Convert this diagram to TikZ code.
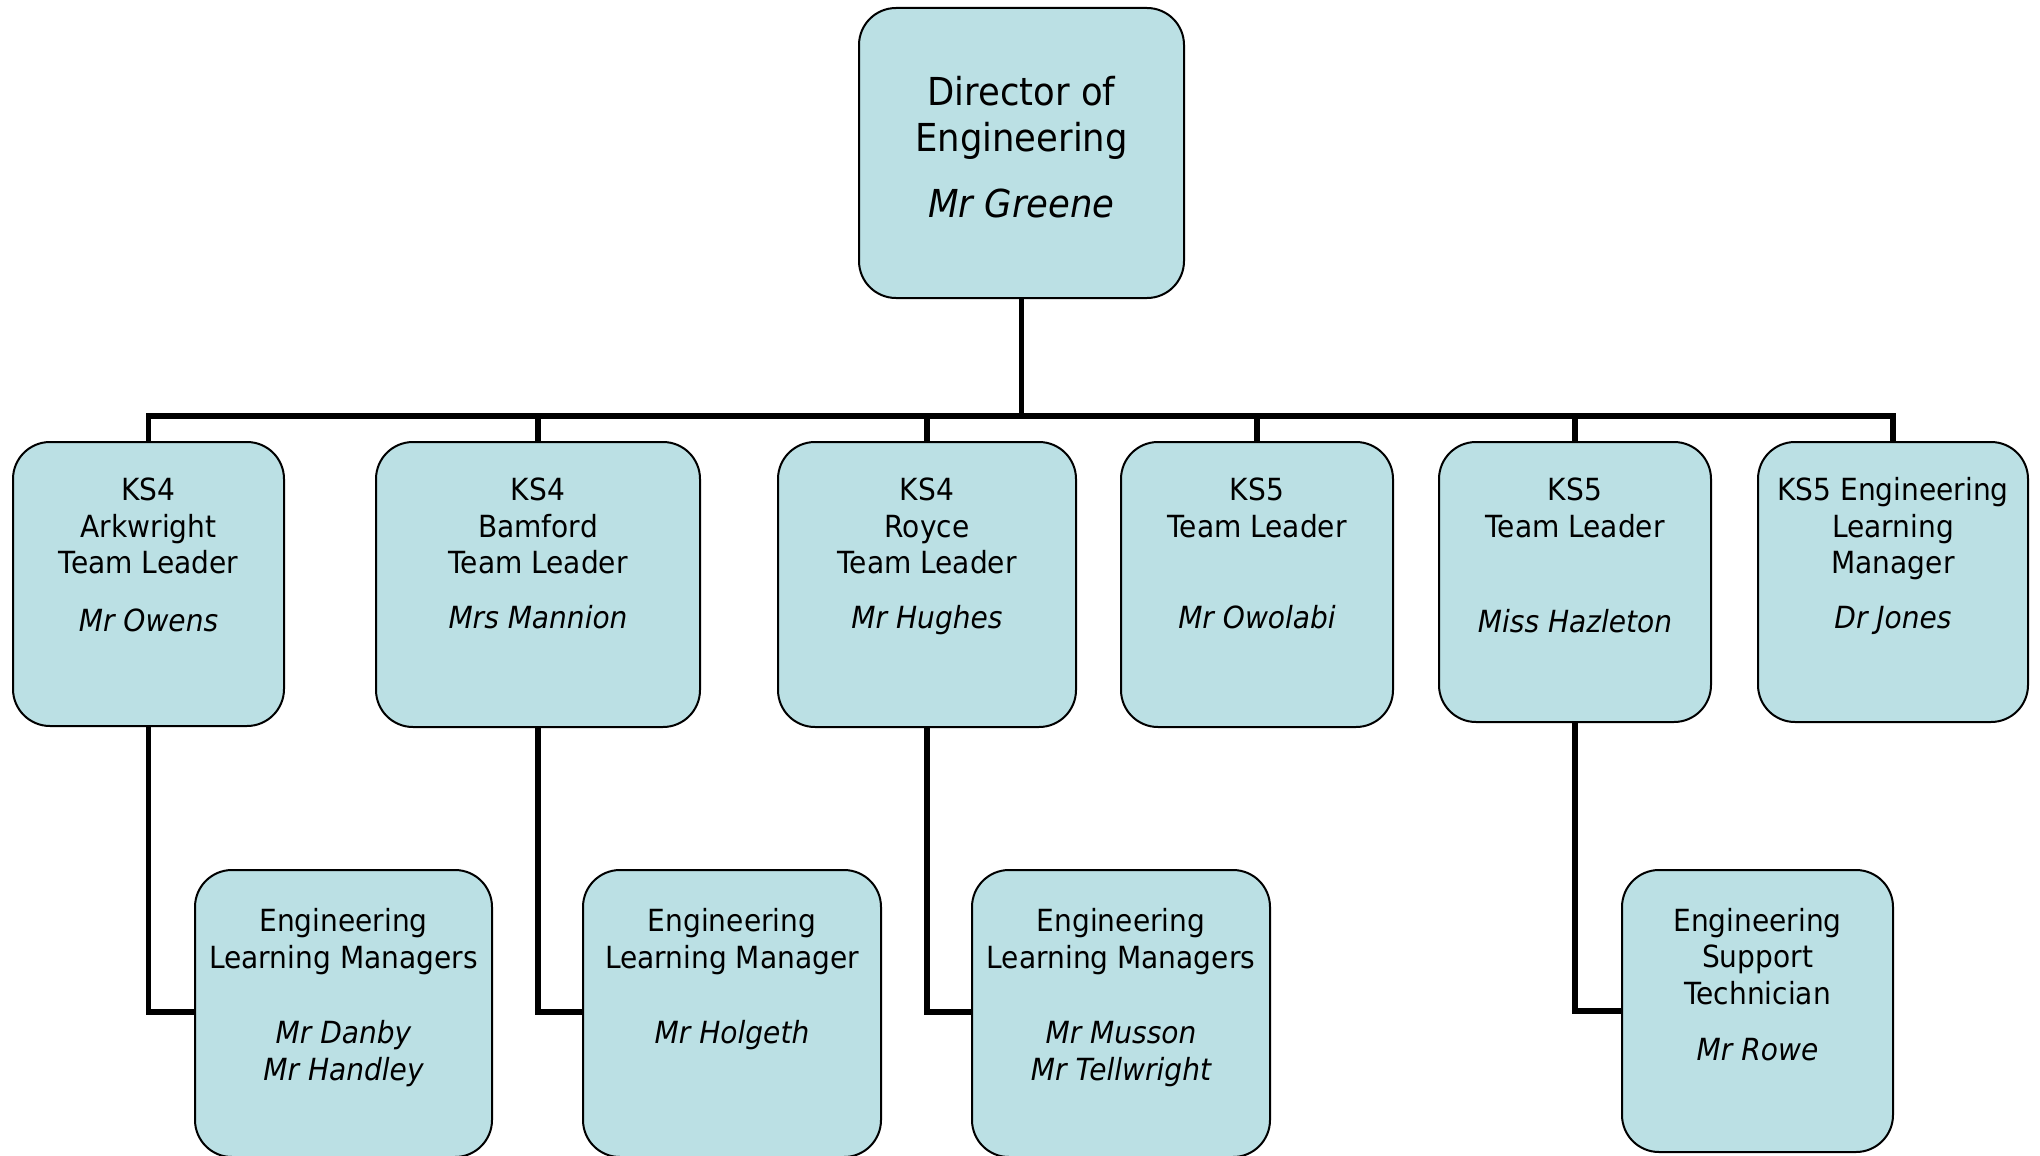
\documentclass[tikz,border=0pt]{standalone}
\usepackage{fontspec}
\setmainfont{DejaVu Sans}[FakeStretch=0.92]
\definecolor{boxfill}{RGB}{187,224,228}
\tikzset{
  box/.style={draw=black, line width=2pt, fill=boxfill, rounded corners=37pt, inner sep=0pt},
  conn/.style={draw=black, line width=5.5pt, line join=miter},
  lab/.style={anchor=base, inner sep=0pt, font=\fontsize{30.5}{36}\selectfont},
  labbig/.style={anchor=base, inner sep=0pt, font=\fontsize{38.5}{44}\selectfont},
}
\newcommand\boxline[4]{\node[lab] (#1) at (#2,#3) {#4};}
\begin{document}
\begin{tikzpicture}[x=1pt,y=-1pt]
\useasboundingbox (0,0) rectangle (2040,1156);
\coordinate (bus) at (0,416);
% boxes
\path
  (1021.5,153) node[box, minimum width=325pt, minimum height=290pt] (top) {}
  (148.5,584)  node[box, minimum width=271pt, minimum height=284pt] (b1) {}
  (538,584.5)  node[box, minimum width=324pt, minimum height=285pt] (b2) {}
  (927,584.5)  node[box, minimum width=298pt, minimum height=285pt] (b3) {}
  (1257,584.5) node[box, minimum width=272pt, minimum height=285pt] (b4) {}
  (1575,582)   node[box, minimum width=272pt, minimum height=280pt] (b5) {}
  (1893,582)   node[box, minimum width=270pt, minimum height=280pt] (b6) {}
  (343.5,1013.5) node[box, minimum width=297pt, minimum height=287pt] (c1) {}
  (732,1013.5)   node[box, minimum width=298pt, minimum height=287pt] (c2) {}
  (1121,1013.5)  node[box, minimum width=298pt, minimum height=287pt] (c3) {}
  (1757.5,1011) node[box, minimum width=271pt, minimum height=282pt] (c4) {};
% connectors
\draw[conn] (top.south) -- (top.south |- bus);
\draw[conn] (b1.north) -- (b1.north |- bus) -- (b6.north |- bus) -- (b6.north);
\foreach \n in {b2,b3,b4,b5} \draw[conn] (\n.north) -- (\n.north |- bus);
\draw[conn] (b1.south) |- (c1.west |- 0,1012);
\draw[conn] (b2.south) |- (c2.west |- 0,1012);
\draw[conn] (b3.south) |- (c3.west |- 0,1012);
\draw[conn] (b5.south) |- (c4.west);
% texts
\node[labbig] (t1) at (1021.5,106) {Director of};
\node[labbig] (t2) at (1021.5,151) {Engineering};
\node[labbig] (t3) at (1021.5,217) {\itshape Mr Greene};

\boxline{b1a}{148.5}{500}{KS4}
\boxline{b1b}{148.5}{537}{Arkwright}
\boxline{b1c}{148.5}{573}{Team Leader}
\boxline{b1d}{148.5}{631}{\itshape Mr Owens}

\boxline{b2a}{538}{500}{KS4}
\boxline{b2b}{538}{537}{Bamford}
\boxline{b2c}{538}{573}{Team Leader}
\boxline{b2d}{538}{628}{\itshape Mrs Mannion}

\boxline{b3a}{927}{500}{KS4}
\boxline{b3b}{927}{537}{Royce}
\boxline{b3c}{927}{573}{Team Leader}
\boxline{b3d}{927}{628}{\itshape Mr Hughes}

\boxline{b4a}{1257}{500}{KS5}
\boxline{b4b}{1257}{537}{Team Leader}
\boxline{b4d}{1257}{628}{\itshape Mr Owolabi}

\boxline{b5a}{1575}{500}{KS5}
\boxline{b5b}{1575}{537}{Team Leader}
\boxline{b5d}{1575}{632}{\itshape Miss Hazleton}

\boxline{b6a}{1893}{500}{KS5 Engineering}
\boxline{b6b}{1893}{537}{Learning}
\boxline{b6c}{1893}{573}{Manager}
\boxline{b6d}{1893}{628}{\itshape Dr Jones}

\boxline{c1a}{343.5}{931}{Engineering}
\boxline{c1b}{343.5}{968}{Learning Managers}
\boxline{c1c}{343.5}{1043}{\itshape Mr Danby}
\boxline{c1d}{343.5}{1080}{\itshape Mr Handley}

\boxline{c2a}{732}{931}{Engineering}
\boxline{c2b}{732}{968}{Learning Manager}
\boxline{c2c}{732}{1043}{\itshape Mr Holgeth}

\boxline{c3a}{1121}{931}{Engineering}
\boxline{c3b}{1121}{968}{Learning Managers}
\boxline{c3c}{1121}{1043}{\itshape Mr Musson}
\boxline{c3d}{1121}{1080}{\itshape Mr Tellwright}

\boxline{c4a}{1757.5}{931}{Engineering}
\boxline{c4b}{1757.5}{967}{Support}
\boxline{c4c}{1757.5}{1004}{Technician}
\boxline{c4d}{1757.5}{1060}{\itshape Mr Rowe}
\end{tikzpicture}
\end{document}
